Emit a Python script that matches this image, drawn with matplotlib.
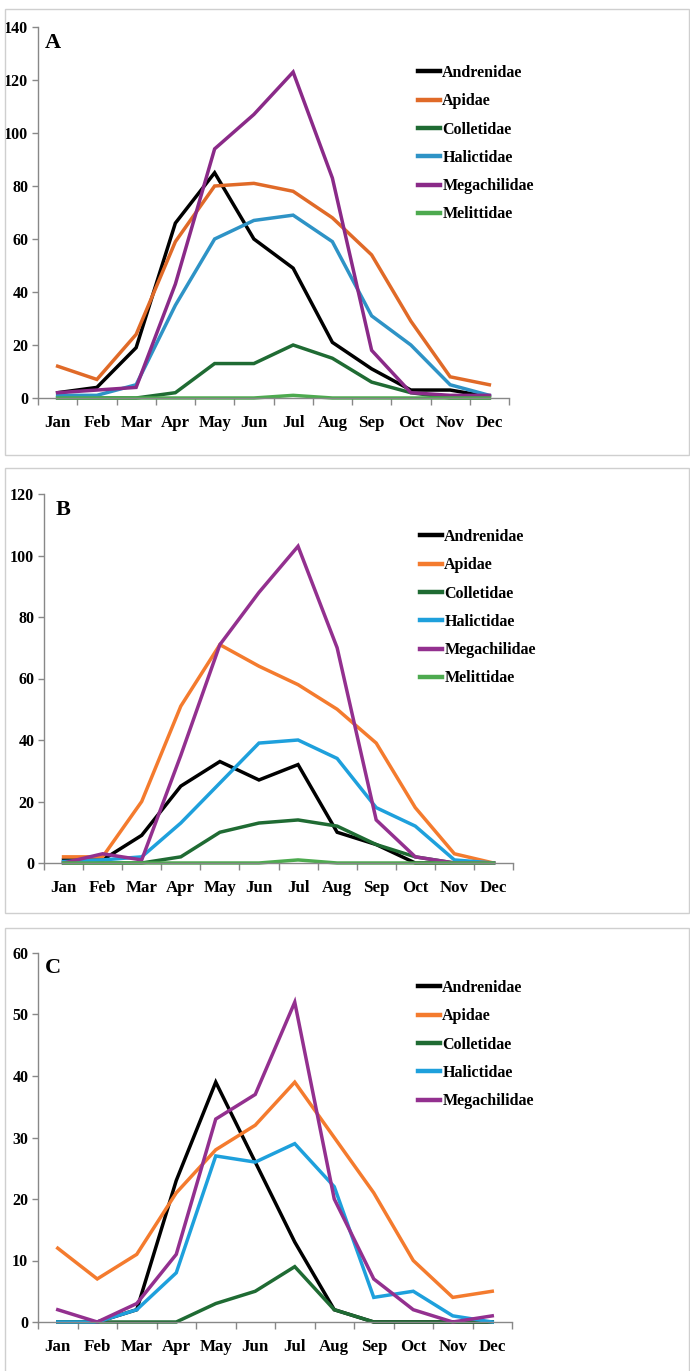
import matplotlib
matplotlib.use("Agg")
import matplotlib.pyplot as plt
from matplotlib.patches import Rectangle

months = ["Jan", "Feb", "Mar", "Apr", "May", "Jun", "Jul", "Aug", "Sep", "Oct", "Nov", "Dec"]
families = ["Andrenidae", "Apidae", "Colletidae", "Halictidae", "Megachilidae", "Melittidae"]

# Panel A
a_andrenidae = [2, 4, 19, 66, 85, 60, 49, 21, 11, 3, 3, 0.5]
a_apidae = [12, 7, 24, 59, 80, 81, 78, 68, 54, 29, 8, 5]
a_colletidae = [0, 0, 0, 2, 13, 13, 20, 15, 6, 2, 0, 0]
a_halictidae = [1, 1, 5, 35, 60, 67, 69, 59, 31, 20, 5, 1]
a_megachilidae = [2, 3, 4, 43, 94, 107, 123, 83, 18, 2, 1, 1]
a_melittidae = [0, 0, 0, 0, 0, 0, 1, 0, 0, 0, 0, 0]

# Panel B
b_andrenidae = [1, 1, 9, 25, 33, 27, 32, 10, 6, 0, 0, 0]
b_apidae = [2, 2, 20, 51, 71, 64, 58, 50, 39, 18, 3, 0]
b_colletidae = [0, 0, 0, 2, 10, 13, 14, 12, 6, 2, 0, 0]
b_halictidae = [0.5, 1, 2, 13, 26, 39, 40, 34, 18, 12, 1, 0]
b_megachilidae = [0, 3, 1, 35, 71, 88, 103, 70, 14, 2, 0, 0]
b_melittidae = [0, 0, 0, 0, 0, 0, 1, 0, 0, 0, 0, 0]

# Panel C
c_andrenidae = [0, 0, 2, 23, 39, 26, 13, 2, 0, 0, 0, 0]
c_apidae = [12, 7, 11, 21, 28, 32, 39, 30, 21, 10, 4, 5]
c_colletidae = [0, 0, 0, 0, 3, 5, 9, 2, 0, 0, 0, 0]
c_halictidae = [0, 0, 2, 8, 27, 26, 29, 22, 4, 5, 1, 0]
c_megachilidae = [2, 0, 3, 11, 33, 37, 52, 20, 7, 2, 0, 1]

colors_a = ["#000000", "#E06A28", "#1F6B33", "#2E93C6", "#8A2A88", "#4DAA4F"]
colors_bc = ["#000000", "#F47B2E", "#1F6B33", "#1EA0DC", "#93308F", "#4DAA4F"]

W, H = 690, 1371
fig = plt.figure(figsize=(W / 100, H / 100), dpi=100)
FONT = "Liberation Serif"

def fx(px):
    return px / W

def fy(py):
    return 1 - py / H

# panel borders
for (x0, y0, x1, y1) in [(5, 9, 689, 455), (5, 468, 689, 913), (5, 928, 689, 1372)]:
    fig.patches.append(Rectangle((fx(x0), fy(y1)), fx(x1) - fx(x0), fy(y0) - fy(y1),
                                 transform=fig.transFigure, fill=False,
                                 edgecolor="#CFCFCF", linewidth=1.0, zorder=0))

panels = [
    dict(rect=(38, 27, 509, 398), ymax=140, step=20, letter="A", lpos=(53, 43),
         series=[a_andrenidae, a_apidae, a_colletidae, a_halictidae, a_megachilidae, a_melittidae],
         colors=colors_a, leg=(418, 65)),
    dict(rect=(44, 494, 513, 863), ymax=120, step=20, letter="B", lpos=(63, 510),
         series=[b_andrenidae, b_apidae, b_colletidae, b_halictidae, b_megachilidae, b_melittidae],
         colors=colors_bc, leg=(420, 529)),
    dict(rect=(38, 953, 512, 1322), ymax=60, step=10, letter="C", lpos=(53, 968),
         series=[c_andrenidae, c_apidae, c_colletidae, c_halictidae, c_megachilidae],
         colors=colors_bc, leg=(418, 980)),
]

x = list(range(len(months)))
for p in panels:
    l, t, r, b = p["rect"]
    ax = fig.add_axes([fx(l), fy(b), fx(r) - fx(l), fy(t) - fy(b)])
    for name, vals, col in zip(families, p["series"], p["colors"]):
        ax.plot(x, vals, color=col, linewidth=2.5, label=name, solid_joinstyle="miter")
    ax.set_xlim(-0.5, 11.5)
    ax.set_ylim(0, p["ymax"])
    ax.set_yticks(list(range(0, p["ymax"] + 1, p["step"])))
    ax.set_xticks(x)
    ax.set_xticklabels(months)
    ax.set_xticks([i - 0.5 for i in range(13)], minor=True)
    ax.tick_params(axis="x", which="major", length=0, pad=12)
    ax.tick_params(axis="x", which="minor", length=5, direction="out", color="#888888", width=1)
    ax.tick_params(axis="y", which="major", length=4, direction="out", color="#888888", width=1, pad=3)
    for lab in ax.get_xticklabels():
        lab.set_fontfamily(FONT)
        lab.set_fontweight("bold")
        lab.set_fontsize(12.2)
    for lab in ax.get_yticklabels():
        lab.set_fontfamily(FONT)
        lab.set_fontweight("bold")
        lab.set_fontsize(11.5)
    for s in ["top", "right"]:
        ax.spines[s].set_visible(False)
    for s in ["left", "bottom"]:
        ax.spines[s].set_color("#888888")
        ax.spines[s].set_linewidth(1.0)
    for ln in ax.lines:
        ln.set_clip_on(False)
    fig.text(fx(p["lpos"][0]), fy(p["lpos"][1]), p["letter"], fontfamily=FONT,
             fontweight="bold", fontsize=16, ha="center", va="center")
    lg = ax.legend(loc="upper left", bbox_to_anchor=(fx(p["leg"][0]), fy(p["leg"][1])),
                   bbox_transform=fig.transFigure, frameon=False, borderaxespad=0,
                   borderpad=0, handlelength=1.4, handletextpad=0.12, labelspacing=0.77,
                   prop={"family": FONT, "weight": "bold", "size": 11.5})
    for h in lg.get_lines():
        h.set_linewidth(3.2)

fig.savefig("out.png", dpi=100)
